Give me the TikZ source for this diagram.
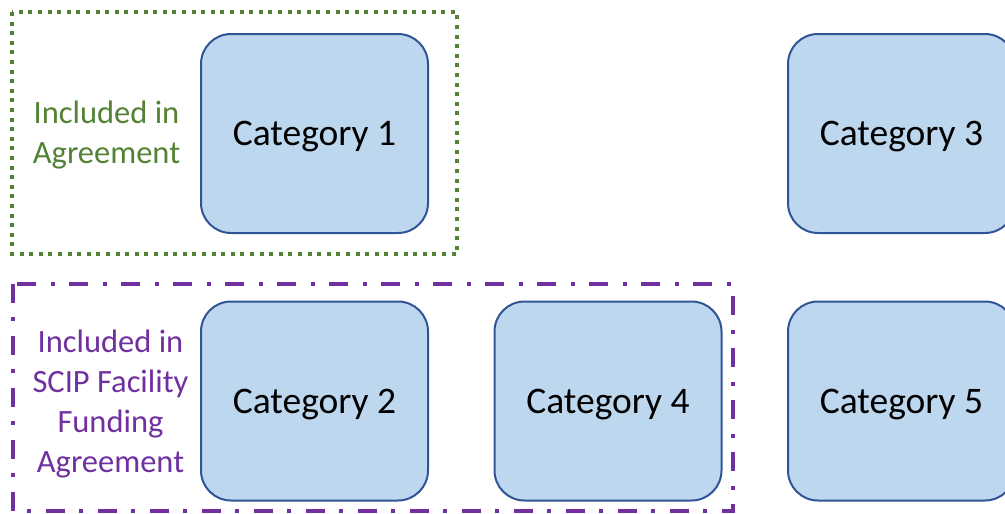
\documentclass[tikz,border=0pt]{standalone}
\usepackage{fontspec}
\setmainfont{Carlito}
\definecolor{boxfill}{HTML}{BDD7EE}
\definecolor{boxline}{HTML}{2F5597}
\definecolor{grp1}{HTML}{548235}
\definecolor{grp2}{HTML}{7030A0}
\begin{document}
\begin{tikzpicture}[x=1pt,y=-1pt,
  catbox/.style={draw=boxline, fill=boxfill, line width=2pt, rounded corners=30pt,
    minimum width=227pt, minimum height=199pt, inner sep=0pt,
    text height=24pt, text depth=0pt,
    font=\fontsize{37.5}{44}\selectfont, text=black},
  greenframe/.style={draw=grp1, line width=4pt, dash pattern=on 4pt off 5.6pt},
  purpleframe/.style={draw=grp2, line width=4pt, dash pattern=on 19pt off 14pt on 4pt off 15pt},
  grplabel/.style={align=center, font=\fontsize{32.5}{40}\selectfont, inner sep=0pt}]
\useasboundingbox (0,0) rectangle (1005,514);
\clip (0,0) rectangle (1005,514);
\node[catbox] (c1) at (314.5,133.5) {Category 1};
\node[catbox] (c3) at (901.5,133.5) {Category 3};
\node[catbox] (c2) at (314.5,401) {Category 2};
\node[catbox] (c4) at (608,401) {Category 4};
\node[catbox] (c5) at (901.5,401) {Category 5};
\draw[greenframe] (12,12) rectangle (457,254);
\draw[purpleframe] (12.5,284) rectangle (733,511);
\node[grplabel, text=grp1] (l1) at (106.5,135) {Included in\\Agreement};
\node[grplabel, text=grp2] (l2) at (110.5,404) {Included in\\SCIP Facility\\Funding\\Agreement};
\end{tikzpicture}
\end{document}
